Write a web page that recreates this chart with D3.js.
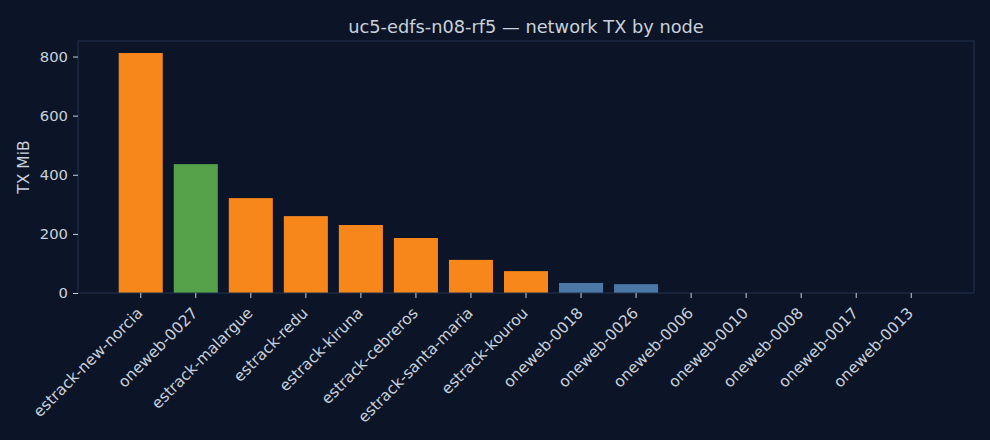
<!DOCTYPE html>
<html>
<head>
<meta charset="utf-8">
<script src="https://cdn.jsdelivr.net/npm/d3@7"></script>
<style>
  html, body { margin: 0; padding: 0; background: #0b1527; }
  svg text { font-family: "DejaVu Sans", sans-serif; }
</style>
</head>
<body>
<div id="chart"></div>
<script>
const nodes = [
  'estrack-new-norcia', 'oneweb-0027', 'estrack-malargue', 'estrack-redu',
  'estrack-kiruna', 'estrack-cebreros', 'estrack-santa-maria', 'estrack-kourou',
  'oneweb-0018', 'oneweb-0026', 'oneweb-0006', 'oneweb-0010',
  'oneweb-0008', 'oneweb-0017', 'oneweb-0013'
];
const txMiB = [812, 436, 321, 260, 230, 186, 112, 74, 34, 30, 0, 0, 0, 0, 0];
const kinds = [
  'ground', 'leader', 'ground', 'ground', 'ground', 'ground', 'ground', 'ground',
  'sat', 'sat', 'sat', 'sat', 'sat', 'sat', 'sat'
];
const yTicks = [0, 200, 400, 600, 800];

const colors = { ground: '#f7871b', leader: '#55a24b', sat: '#4c78a8' };
const textColor = '#c9d1dc';
const frameColor = '#243350';

const width = 990;
const height = 440;
const margin = { top: 41, right: 16, bottom: 147, left: 78 };
const innerW = width - margin.left - margin.right;
const innerH = height - margin.top - margin.bottom;

const svg = d3.select('#chart')
  .append('svg')
  .attr('width', width)
  .attr('height', height)
  .style('background', '#0b1527');

const g = svg.append('g')
  .attr('transform', `translate(${margin.left},${margin.top})`);

const xScale = d3.scaleBand()
  .domain(nodes)
  .range([0, innerW])
  .paddingInner(0.2)
  .paddingOuter(0.74);

const yScale = d3.scaleLinear()
  .domain([0, 852.5])
  .range([innerH, 0]);

g.selectAll('rect.bar')
  .data(nodes)
  .enter()
  .append('rect')
  .attr('class', 'bar')
  .attr('x', d => xScale(d))
  .attr('width', xScale.bandwidth())
  .attr('y', (d, i) => yScale(txMiB[i]))
  .attr('height', (d, i) => innerH - yScale(txMiB[i]))
  .style('fill', (d, i) => colors[kinds[i]]);

// frame
g.append('rect')
  .attr('x', 0)
  .attr('y', 0)
  .attr('width', innerW)
  .attr('height', innerH)
  .style('fill', 'none')
  .style('stroke', frameColor)
  .style('stroke-width', 1);

const xAxis = g.append('g')
  .attr('transform', `translate(0, ${innerH})`)
  .call(d3.axisBottom(xScale).tickSize(5).tickPadding(5));

xAxis.select('.domain').remove();
xAxis.selectAll('line').style('stroke', textColor);
xAxis.selectAll('text')
  .style('fill', textColor)
  .style('font-size', '15.4px')
  .attr('text-anchor', 'end')
  .attr('transform', 'translate(3, 21) rotate(-45)')
  .attr('dy', 0)
  .attr('y', 0)
  .attr('x', 0);

const yAxis = g.append('g')
  .call(d3.axisLeft(yScale).tickValues(yTicks).tickSize(5).tickPadding(5));

yAxis.select('.domain').remove();
yAxis.selectAll('line').style('stroke', textColor);
yAxis.selectAll('text')
  .style('fill', textColor)
  .style('font-size', '14.8px');

svg.append('text')
  .attr('text-anchor', 'middle')
  .attr('x', margin.left + innerW / 2)
  .attr('y', 33)
  .text('uc5-edfs-n08-rf5 — network TX by node')
  .style('font-size', '17.8px')
  .style('fill', textColor);

svg.append('text')
  .attr('text-anchor', 'middle')
  .attr('transform', `translate(29, ${margin.top + innerH / 2}) rotate(-90)`)
  .text('TX MiB')
  .style('font-size', '15.5px')
  .style('fill', textColor);
</script>
</body>
</html>
